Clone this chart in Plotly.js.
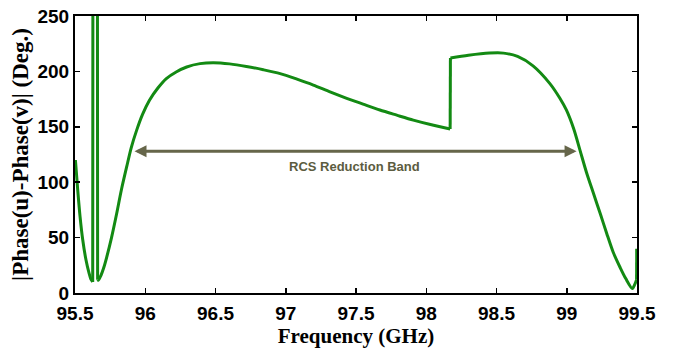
<!DOCTYPE html>
<html>
<head>
<meta charset="utf-8">
<script src="https://cdn.plot.ly/plotly-3.0.1.min.js"></script>
<style>html,body{margin:0;padding:0;background:#fff;}#chart{width:674px;height:348px;}</style>
</head>
<body>
<div id="chart"></div>
<script>
var freq = [95.503, 95.52, 95.536, 95.555, 95.578, 95.60, 95.615, 95.626, 95.628, 95.659, 95.661, 95.666, 95.685, 95.705, 95.725, 95.76, 95.797, 95.83, 95.868, 95.90, 95.939, 95.98, 96.03, 96.09, 96.15, 96.22, 96.295, 96.39, 96.485, 96.6, 96.72, 96.84, 96.96, 97.08, 97.196, 97.315, 97.434, 97.55, 97.67, 97.79, 97.908, 98.03, 98.17, 98.172, 98.3, 98.45, 98.55, 98.65, 98.76, 98.88, 98.95, 98.998, 99.05, 99.094, 99.14, 99.19, 99.24, 99.284, 99.33, 99.38, 99.42, 99.467, 99.485, 99.497, 99.498];
var phaseDiff = [120, 92, 69, 48, 30, 18, 12, 10, 400, 400, 12, 11.5, 16, 23, 32, 50, 72, 93, 114, 131, 147, 161, 174, 185, 193.5, 199.5, 204, 207, 207.8, 206.8, 204.5, 201.5, 198, 193, 187.7, 181.5, 175.7, 170.5, 165.2, 160.5, 156, 152, 148, 212, 214.5, 216.5, 216.5, 213.5, 205, 189, 176, 165, 148, 129, 109, 90, 71, 54, 37, 23, 13, 4, 8, 12, 40];
// indices where the curve is smooth between breaks (start, end inclusive)
var smoothSegments = [[0, 7], [10, 42], [43, 63]];
var jumpSegments = [[7, 10], [42, 43], [63, 64]];
var xTicks = [95.5, 96, 96.5, 97, 97.5, 98, 98.5, 99, 99.5];
var xTickLabels = ['95.5', '96', '96.5', '97', '97.5', '98', '98.5', '99', '99.5'];
var yTicks = [0, 50, 100, 150, 200, 250];
var bandStart = 95.913, bandEnd = 99.07, bandLevel = 128;
var bandLabel = 'RCS Reduction Band';

var lineColor = '#138a13';
var traces = [];
smoothSegments.forEach(function (s) {
  traces.push({x: freq.slice(s[0], s[1] + 1), y: phaseDiff.slice(s[0], s[1] + 1), type: 'scatter', mode: 'lines',
    line: {color: lineColor, width: 3, shape: 'spline', smoothing: 0.8}, hoverinfo: 'skip'});
});
jumpSegments.forEach(function (s) {
  traces.push({x: freq.slice(s[0], s[1] + 1), y: phaseDiff.slice(s[0], s[1] + 1), type: 'scatter', mode: 'lines',
    line: {color: lineColor, width: 3}, hoverinfo: 'skip'});
});
var tickFont = {family: 'Liberation Sans, Arial, sans-serif', size: 19, color: '#000', weight: 'bold'};
var layout = {
  width: 674, height: 348,
  margin: {l: 75, r: 37, t: 16, b: 55},
  paper_bgcolor: '#fff', plot_bgcolor: '#fff',
  showlegend: false,
  xaxis: {
    range: [95.5, 99.5], tickvals: xTicks, ticktext: xTickLabels,
    ticks: 'inside', ticklen: 5, tickwidth: 1.5, tickcolor: '#000',
    showline: true, linecolor: '#000', linewidth: 2, mirror: 'ticks',
    showgrid: false, zeroline: false,
    tickfont: tickFont, ticklabelstandoff: 2,
    title: {text: '<b>Frequency (GHz)</b>', font: {family: 'Liberation Serif, Times New Roman, serif', size: 21, color: '#000'}, standoff: 1}
  },
  yaxis: {
    range: [0, 250], tickvals: yTicks,
    ticks: 'inside', ticklen: 5, tickwidth: 1.5, tickcolor: '#000',
    showline: true, linecolor: '#000', linewidth: 2, mirror: 'ticks',
    showgrid: false, zeroline: false,
    tickfont: tickFont,
    title: {text: '<b>|Phase(u)-Phase(v)| (Deg.)</b>', font: {family: 'Liberation Serif, Times New Roman, serif', size: 23, color: '#000'}, standoff: 2}
  },
  annotations: [
    {
      x: bandEnd, y: bandLevel, ax: bandStart, ay: bandLevel,
      xref: 'x', yref: 'y', axref: 'x', ayref: 'y',
      text: '', showarrow: true, arrowhead: 2, arrowside: 'end+start',
      arrowsize: 0.8, arrowwidth: 3, arrowcolor: '#66664a', standoff: 0, startstandoff: 0
    },
    {
      x: (bandStart + bandEnd) / 2, y: bandLevel - 14, xref: 'x', yref: 'y',
      text: '<b>' + bandLabel + '</b>', showarrow: false,
      font: {family: 'Liberation Sans, Arial, sans-serif', size: 13, color: '#5c5c40'}
    }
  ]
};
Plotly.newPlot('chart', traces, layout, {displayModeBar: false, staticPlot: true});
</script>
</body>
</html>
